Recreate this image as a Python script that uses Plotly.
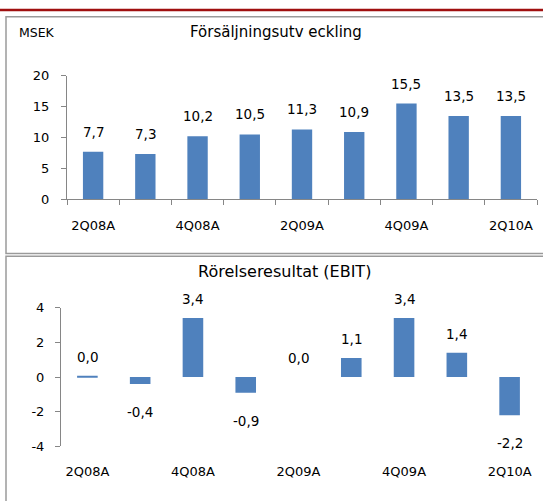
import plotly.graph_objects as go

categories = ["2Q08A", "3Q08A", "4Q08A", "1Q09A", "2Q09A", "3Q09A", "4Q09A", "1Q10A", "2Q10A"]
sales = [7.7, 7.3, 10.2, 10.5, 11.3, 10.9, 15.5, 13.5, 13.5]
ebit = [0.04, -0.4, 3.4, -0.9, 0.0, 1.1, 3.4, 1.4, -2.2]
label_every = 2
sales_ticks = [0, 5, 10, 15, 20]
ebit_ticks = [-4, -2, 0, 2, 4]
sales_title = "Försäljningsutv eckling"
ebit_title = "Rörelseresultat (EBIT)"
unit_label = "MSEK"

W, H = 543, 501
def fx(px):
    return px / W
def fy(py):
    return 1 - py / H

BAR = "#4F81BD"
AX = "#868686"
FONT = "DejaVu Sans"

idx = list(range(len(categories)))
tickvals = idx[::label_every]
ticktext = [categories[i] for i in tickvals]
bounds = [i - 0.5 for i in range(len(categories) + 1)]

def fmt(v):
    return f"{round(v, 1):.1f}".replace(".", ",").replace("-0,0", "0,0")

fig = go.Figure()
fig.add_trace(go.Bar(x=idx, y=sales, marker=dict(color=BAR, line=dict(width=0)),
                     xaxis="x", yaxis="y", showlegend=False, hoverinfo="skip"))
fig.add_trace(go.Bar(x=idx, y=ebit, marker=dict(color=BAR, line=dict(width=0)),
                     xaxis="x2", yaxis="y2", showlegend=False, hoverinfo="skip"))

annotations = []
for i, v in zip(idx, sales):
    annotations.append(dict(x=i, y=v, xref="x", yref="y", text=fmt(v), showarrow=False,
                            yanchor="middle", yshift=20, font=dict(size=13.5, color="#000")))
for i, v in zip(idx, ebit):
    annotations.append(dict(x=i, y=v, xref="x2", yref="y2", text=fmt(v), showarrow=False,
                            yanchor="middle", yshift=19 if v >= 0 else -28,
                            font=dict(size=13.5, color="#000")))
annotations += [
    dict(x=fx(276), y=fy(26), xref="paper", yref="paper", text=sales_title, showarrow=False,
         xanchor="center", yanchor="middle", font=dict(size=15, color="#000")),
    dict(x=fx(17), y=fy(26), xref="paper", yref="paper", text=unit_label, showarrow=False,
         xanchor="left", yanchor="middle", font=dict(size=12.5, color="#000")),
    dict(x=fx(284), y=fy(273), xref="paper", yref="paper", text=ebit_title, showarrow=False,
         xanchor="center", yanchor="middle", font=dict(size=16, color="#000")),
]

common_x = dict(range=[-0.5, len(categories) - 0.5], tickmode="array", tickvals=tickvals,
                ticktext=ticktext, ticks="", showgrid=False, zeroline=False,
                tickfont=dict(size=13, color="#000"), fixedrange=True)
minor_ticks = dict(tickmode="array", tickvals=bounds, ticks="outside", ticklen=5,
                   tickcolor=AX, tickwidth=1, showgrid=False)

def ylab(v):
    return str(v).replace("−", "-")

fig.update_layout(
    width=W, height=H, margin=dict(l=0, r=0, t=0, b=0),
    paper_bgcolor="white", plot_bgcolor="rgba(0,0,0,0)",
    font=dict(family=FONT, size=13, color="#000"),
    bargap=0.61, showlegend=False,
    xaxis=dict(domain=[fx(67), fx(537)], anchor="y", showline=True, linecolor=AX, linewidth=1,
               minor=minor_ticks, ticklabelstandoff=14, **common_x),
    yaxis=dict(domain=[fy(198), fy(71)], anchor="x", range=[0, 20], tickmode="array",
               tickvals=sales_ticks, ticktext=[ylab(v) for v in sales_ticks], ticks="outside",
               ticklen=5, tickcolor=AX, showline=True, linecolor=AX, showgrid=False,
               zeroline=False, tickfont=dict(size=13, color="#000"), ticklabelstandoff=9,
               fixedrange=True),
    xaxis2=dict(domain=[fx(61), fx(536)], anchor="y2", showline=False,
                ticklabelstandoff=16, **common_x),
    xaxis3=dict(domain=[fx(61), fx(536)], overlaying="x2", anchor="free", position=fy(382),
                range=[-0.5, len(categories) - 0.5], showline=True, linecolor=AX, linewidth=1,
                showticklabels=False, ticks="", tickvals=[], minor=minor_ticks,
                showgrid=False, zeroline=False, fixedrange=True),
    yaxis2=dict(domain=[fy(453), fy(310)], anchor="x2", range=[-4, 4], tickmode="array",
                tickvals=ebit_ticks, ticktext=[ylab(v) for v in ebit_ticks], ticks="outside",
                ticklen=5, tickcolor=AX, showline=True, linecolor=AX, showgrid=False,
                zeroline=False, tickfont=dict(size=13, color="#000"), ticklabelstandoff=8,
                fixedrange=True),
    annotations=annotations,
    shapes=[
        dict(type="line", xref="paper", yref="paper", x0=0, x1=1, y0=fy(3), y1=fy(3),
             line=dict(color="#A01010", width=2.5)),
        dict(type="rect", xref="paper", yref="paper", x0=fx(6), x1=fx(560), y0=fy(254), y1=fy(10),
             line=dict(color="#9a9a9a", width=1.5)),
        dict(type="rect", xref="paper", yref="paper", x0=fx(6), x1=fx(560), y0=fy(520), y1=fy(257),
             line=dict(color="#9a9a9a", width=1.5)),
    ],
)

fig.write_html("out.html", config={"displayModeBar": False},
               post_script="document.body.style.margin='0';document.body.style.overflow='hidden';")
